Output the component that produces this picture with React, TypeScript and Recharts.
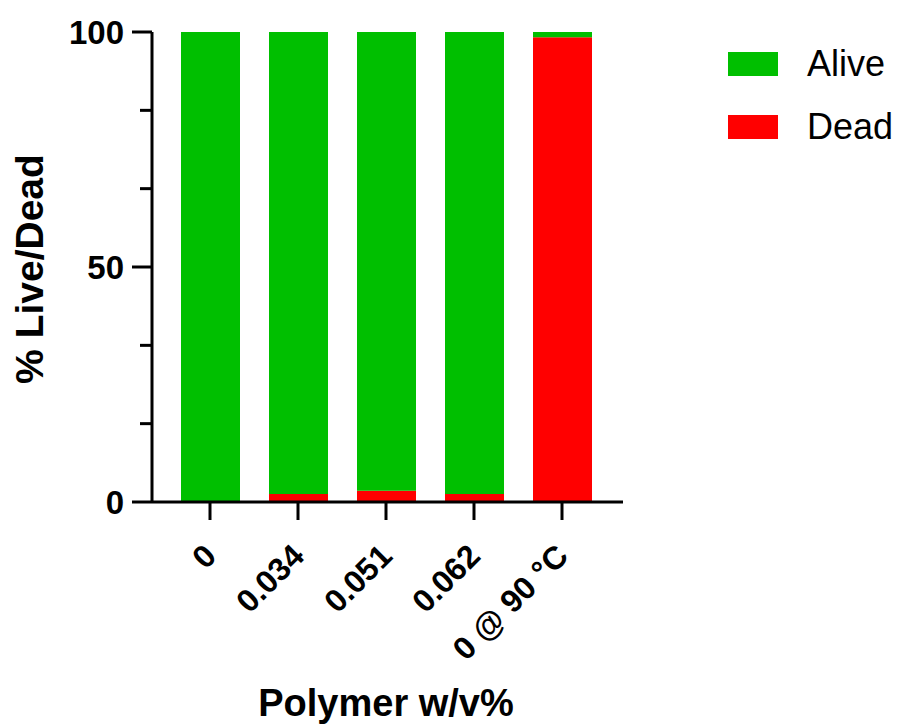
import { BarChart, Bar, XAxis, YAxis, Legend } from "recharts";

const categories = ["0", "0.034", "0.051", "0.062", "0 @ 90 °C"];
const deadValues = [0, 1.7, 2.4, 1.7, 98.9];
const aliveValues = [100, 98.3, 97.6, 98.3, 1.1];
const yTicks = [0, 16.67, 33.33, 50, 66.67, 83.33, 100];
const yLabelled = [0, 50, 100];

const data = categories.map((name, i) => ({
  name,
  dead: deadValues[i],
  alive: aliveValues[i],
}));

const FONT = "'Liberation Sans', Arial, sans-serif";
const GREEN = "#00bf00";
const RED = "#ff0000";

const YTick = (props: any) => {
  const { x, y, payload } = props;
  const major = yLabelled.includes(payload.value);
  return (
    <g>
      <line x1={x - (major ? 20 : 12)} x2={x} y1={y} y2={y} stroke='#000' strokeWidth={3} />
      {major && (
        <text
          x={x - 28}
          y={y}
          dy='0.36em'
          textAnchor='end'
          fontFamily={FONT}
          fontWeight='bold'
          fontSize={33}
          fill='#000'
        >
          {payload.value}
        </text>
      )}
    </g>
  );
};

const XTick = (props: any) => {
  const { x, y, payload } = props;
  const tx = x + 8;
  const ty = y + 56;
  return (
    <g>
      <line x1={x} x2={x} y1={y} y2={y + 18} stroke='#000' strokeWidth={3} />
      <text
        x={tx}
        y={ty}
        textAnchor='end'
        transform={`rotate(-45 ${tx} ${ty})`}
        fontFamily={FONT}
        fontWeight='bold'
        fontSize={32}
        fill='#000'
      >
        {payload.value}
      </text>
    </g>
  );
};

const LegendBox = () => (
  <div style={{ fontFamily: FONT, fontSize: 36, color: "#000", lineHeight: 1 }}>
    {[
      { label: "Alive", color: GREEN },
      { label: "Dead", color: RED },
    ].map((item) => (
      <div key={item.label} style={{ display: "flex", alignItems: "center", height: 63 }}>
        <div style={{ width: 50, height: 24, background: item.color, marginRight: 29 }}></div>
        <span>{item.label}</span>
      </div>
    ))}
  </div>
);

export default function App() {
  return (
    <div style={{ position: "absolute", left: 0, top: 0, background: "#fff" }}>
      <BarChart
        width={899}
        height={726}
        data={data}
        margin={{ top: 32, right: 276, bottom: 0, left: 0 }}
      >
        <XAxis
          dataKey='name'
          height={224}
          interval={0}
          padding={{ left: 14, right: 17 }}
          axisLine={{ stroke: "#000", strokeWidth: 3 }}
          tickLine={false}
          tickSize={0}
          tickMargin={0}
          tick={<XTick />}
          label={{
            content: () => (
              <text
                x={386}
                y={716}
                textAnchor='middle'
                fontFamily={FONT}
                fontWeight='bold'
                fontSize={38}
                fill='#000'
              >
                Polymer w/v%
              </text>
            ),
          }}
        />
        <YAxis
          width={152}
          domain={[0, 100]}
          ticks={yTicks}
          interval={0}
          axisLine={{ stroke: "#000", strokeWidth: 3 }}
          tickLine={false}
          tickSize={0}
          tickMargin={0}
          tick={<YTick />}
          label={{
            content: () => (
              <text
                x={43}
                y={269}
                textAnchor='middle'
                transform='rotate(-90 43 269)'
                fontFamily={FONT}
                fontWeight='bold'
                fontSize={39}
                fill='#000'
              >
                % Live/Dead
              </text>
            ),
          }}
        />
        <Legend
          layout='vertical'
          align='center'
          verticalAlign='middle'
          wrapperStyle={{ left: 728, top: 32, width: 171 }}
          content={() => <LegendBox />}
        />
        <Bar dataKey='dead' stackId='a' fill={RED} barSize={59} isAnimationActive={false} />
        <Bar dataKey='alive' stackId='a' fill={GREEN} barSize={59} isAnimationActive={false} />
      </BarChart>
    </div>
  );
}
